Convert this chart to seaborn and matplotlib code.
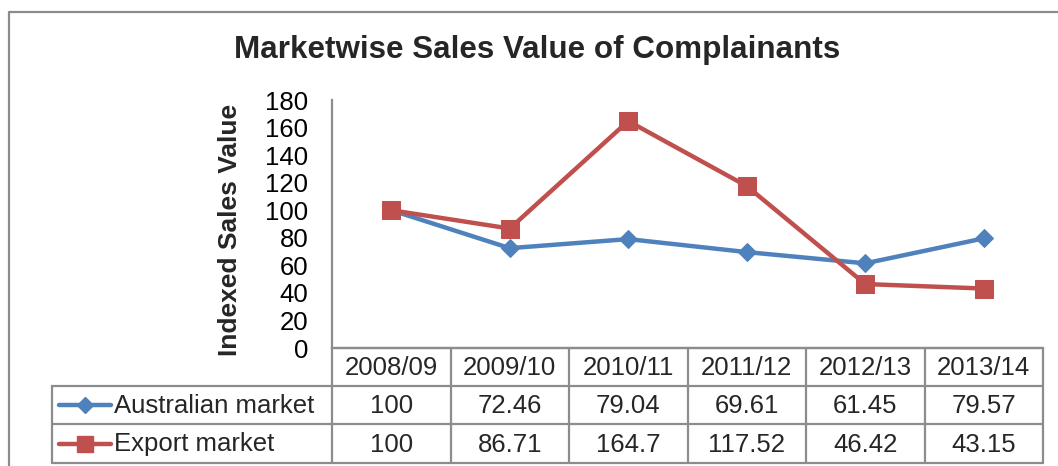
import numpy as np
import pandas as pd
import matplotlib
matplotlib.use("Agg")
import matplotlib.pyplot as plt
import seaborn as sns
from matplotlib import transforms

# ---- data ----
years = ["2008/09", "2009/10", "2010/11", "2011/12", "2012/13", "2013/14"]
australian = [100, 72.46, 79.04, 69.61, 61.45, 79.57]
export = [100, 86.71, 164.7, 117.52, 46.42, 43.15]
series_names = ["Australian market", "Export market"]
y_ticks = list(range(0, 181, 20))
title = "Marketwise Sales Value of Complainants"
y_label = "Indexed Sales Value"

sns.set_theme(style="white")
plt.rcParams["font.family"] = ["Liberation Sans", "DejaVu Sans"]

W, H = 1058, 466
fig = plt.figure(figsize=(W / 100, H / 100), dpi=100)


def fx(px):
    return px / W


def fy(py):
    return 1 - py / H


GRAY = "#8C8C8C"
FS = 18.5
colors = {series_names[0]: "#4F81BD", series_names[1]: "#C0504D"}
markers = {series_names[0]: "D", series_names[1]: "s"}
msizes = {series_names[0]: 9, series_names[1]: 13}

ax = fig.add_axes([fx(332), fy(348), fx(1043) - fx(332), fy(100) - fy(348)])
df = pd.DataFrame({
    "Year": years * 2,
    "Value": australian + export,
    "Market": [series_names[0]] * len(years) + [series_names[1]] * len(years),
})
sns.lineplot(data=df, x="Year", y="Value", hue="Market", style="Market",
             markers=markers, dashes=False, palette=colors, linewidth=3.2,
             legend=False, sort=False, ax=ax)
for line, name in zip(ax.lines, series_names):
    line.set_markersize(msizes[name])
    line.set_markeredgecolor(colors[name])
    line.set_markerfacecolor(colors[name])

ax.set_xlim(-0.5, len(years) - 0.5)
ax.set_ylim(0, 180)
ax.set_yticks(y_ticks)
ax.set_xticks([])
ax.set_xlabel("")
ax.set_ylabel("")
ax.tick_params(axis="y", length=0, pad=17, labelsize=FS, labelcolor="black")
for s in ["top", "right"]:
    ax.spines[s].set_visible(False)
for s in ["left", "bottom"]:
    ax.spines[s].set_color(GRAY)
    ax.spines[s].set_linewidth(1.6)
ax.set_facecolor("none")

fig.text(fx(537), fy(50), title, fontsize=22.6, weight="bold", ha="center", va="center")
fig.text(fx(230), fy(230), y_label, rotation=90, fontsize=19, weight="bold",
         ha="center", va="center")

# ---- data table ----
tab = fig.add_axes([0, 0, 1, 1])
tab.set_xlim(0, W)
tab.set_ylim(H, 0)
tab.axis("off")
bt = transforms.blended_transform_factory(ax.transData, tab.transData)

row_tops = [348, 386, 424, 463]
lw = 1.6
# vertical column lines
for i in range(len(years) + 1):
    tab.plot([i - 0.5, i - 0.5], [row_tops[0], row_tops[-1]], color=GRAY, lw=lw, transform=bt)
# horizontal lines (value part)
for y in row_tops:
    tab.plot([-0.5, len(years) - 0.5], [y, y], color=GRAY, lw=lw, transform=bt)
# label column
for y in row_tops[1:]:
    tab.plot([52, 332], [y, y], color=GRAY, lw=lw)
tab.plot([52, 52], [row_tops[1], row_tops[-1]], color=GRAY, lw=lw)

hdr_y = (row_tops[0] + row_tops[1]) / 2
for i, yr in enumerate(years):
    tab.text(i, hdr_y + 1, yr, transform=bt, ha="center", va="center", fontsize=FS)

for r, (name, vals) in enumerate(zip(series_names, [australian, export])):
    cy = (row_tops[r + 1] + row_tops[r + 2]) / 2
    for i, v in enumerate(vals):
        tab.text(i, cy + 1, f"{v:g}", transform=bt, ha="center", va="center", fontsize=FS)
    tab.plot([59, 111], [cy, cy], color=colors[name], lw=3.2, solid_capstyle="round")
    tab.plot([85], [cy], marker=markers[name], color=colors[name],
             markersize=msizes[name] * (0.95 if r == 0 else 0.85), mec=colors[name])
    tab.text(114, cy + 1, name, ha="left", va="center", fontsize=FS)

# outer chart border (cropped)
tab.plot([9, 9, W + 10], [H + 10, 12, 12], color=GRAY, lw=1.6)

fig.savefig("out.png", dpi=100)
